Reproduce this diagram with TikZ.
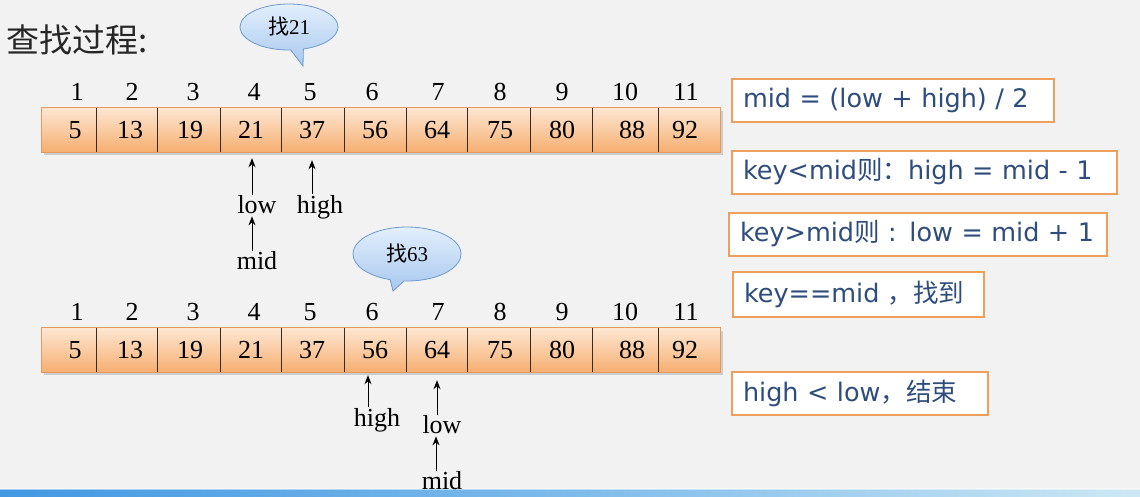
\documentclass[tikz,border=0pt]{standalone}
\usepackage{fontspec}
\setmainfont{Liberation Serif}
\newfontfamily\cjk{Noto Sans CJK SC}
\newfontfamily\boxfont{DejaVu Sans}
\usetikzlibrary{shapes.callouts,shadows,arrows.meta}
\definecolor{bgc}{HTML}{F2F2F2}
\definecolor{celltop}{HTML}{FDE6D2}
\definecolor{cellmid}{HTML}{FACBA2}
\definecolor{cellbot}{HTML}{F6AE70}
\definecolor{cellborder}{HTML}{E39A5E}
\definecolor{sepc}{HTML}{3A2A20}
\definecolor{bubtop}{HTML}{E3EFFC}
\definecolor{bubbot}{HTML}{A7C8EF}
\definecolor{bubline}{HTML}{7099CC}
\definecolor{rulebord}{HTML}{EE9F5C}
\definecolor{ruletext}{HTML}{2E4C7C}
\definecolor{barl}{HTML}{4398E2}
\definecolor{barm}{HTML}{7DBBEB}
\definecolor{barr}{HTML}{CDE8F4}
\begin{document}
\begin{tikzpicture}[x=1pt,y=-1pt,
  cellbox/.style={draw=none,minimum height=44pt,inner sep=0pt,
    top color=celltop,bottom color=cellbot,middle color=cellmid},
  valtext/.style={font=\fontsize{26}{28}\selectfont,inner sep=0pt},
  idx/.style={font=\fontsize{26}{28}\selectfont,inner sep=0pt},
  ptr/.style={font=\fontsize{26}{28}\selectfont,inner sep=1pt},
  arr/.style={draw=black,line width=1pt,-{Stealth[length=9pt,width=7pt]}},
  bubble/.style={ellipse callout,draw=bubline,line width=0.8pt,
    top color=bubtop,bottom color=bubbot,inner sep=0pt,
    font=\fontsize{21}{24}\selectfont},
  rulebox/.style={draw=rulebord,line width=2pt,fill=white,anchor=west,
    minimum height=43pt,inner xsep=11pt,inner ysep=0pt,align=left,
    text=ruletext,font=\boxfont\fontsize{25.5}{28}\selectfont},
]
\useasboundingbox (0,0) rectangle (1140,496);
\fill[bgc] (0,0) rectangle (1140,496);
% bottom bar
\shade[left color=barl,right color=barr,middle color=barm] (0,489) rectangle (1140,496);
\fill[white,opacity=0.5] (0,488) rectangle (1140,489.5);

% title
\node[anchor=west,inner sep=0pt,text=black!85,font=\cjk\fontsize{33}{36}\selectfont] (title) at (6,40) {查找过程:};

% arrays
\foreach \arr/\yy in {1/130,2/350}{
  \fill[black,opacity=0.15] (44,\yy-22+3) rectangle (723,\yy+22+3);
  \foreach \l/\r/\v/\vx/\nx [count=\i] in {42/96/5/75/77,96/157/13/130/132,157/220/19/190/193,220/281/21/251/254,281/344/37/312/310,344/406/56/375/372,406/467/64/437/438,467/530/75/500/500,530/592/80/562/562,592/658/88/632/625,658/720/92/685/686}{
    \node[cellbox,minimum width=\r-\l] (c\arr-\i) at ({(\l+\r)/2},\yy) {};
    \node[valtext] (v\arr-\i) at (\vx,\yy) {\v};
    \node[idx] (n\arr-\i) at (\nx,\yy-38) {\i};
  }
  \draw[cellborder,line width=0.8pt] (c\arr-1.north west) rectangle (c\arr-11.south east);
  \foreach \i in {1,...,10}{
    \draw[sepc,line width=1pt] (c\arr-\i.north east) -- (c\arr-\i.south east);
  }
}

% bubbles
\node[bubble,minimum width=98pt,minimum height=46pt,callout absolute pointer={(303,66)}] (b1) at (289,27) {{\cjk 找}21};
\node[bubble,minimum width=108pt,minimum height=54pt,callout absolute pointer={(393,291)}] (b2) at (407,254) {{\cjk 找}63};

% pointers, first search
\node[ptr] (low1) at (257,205) {low};
\node[ptr] (high1) at (320,207) {high};
\node[ptr] (mid1) at (257,261) {mid};
\coordinate (t-low1) at ([yshift=-6pt]c1-4.south -| 252,0);
\draw[arr] (low1.north -| t-low1) -- (t-low1);
\coordinate (t-high1) at ([yshift=-8pt]c1-5.south -| 312,0);
\draw[arr] (high1.north -| t-high1) -- (t-high1);
\coordinate (t-mid1) at ([yshift=-1pt]low1.south -| 252,0);
\draw[arr] (mid1.north -| t-mid1) -- (t-mid1);

% pointers, second search
\node[ptr] (high2) at (377,420) {high};
\node[ptr] (low2) at (442,425) {low};
\node[ptr] (mid2) at (442,481) {mid};
\coordinate (t-high2) at ([yshift=-3pt]c2-6.south -| 368,0);
\draw[arr] (high2.north -| t-high2) -- (t-high2);
\coordinate (t-low2) at ([yshift=-8pt]c2-7.south -| 437,0);
\draw[arr] (low2.north -| t-low2) -- (t-low2);
\coordinate (t-mid2) at ([yshift=-1pt]low2.south -| 436,0);
\draw[arr] (mid2.north -| t-mid2) -- (t-mid2);

% rule boxes
\node[rulebox,text width=300pt] (r1) at (731,100.5) {mid = (low + high) / 2};
\node[rulebox,text width=363pt] (r2) at (731,172) {key<mid{\cjk 则：}high = mid - 1};
\node[rulebox,text width=356pt] (r3) at (728,234) {key>mid{\cjk 则} : low = mid + 1};
\node[rulebox,text width=229pt,minimum height=45pt] (r4) at (732,294.5) {key==mid {\cjk ，找到}};
\node[rulebox,text width=234pt] (r5) at (731,393.5) {high < low{\cjk ，结束}};
\end{tikzpicture}
\end{document}
